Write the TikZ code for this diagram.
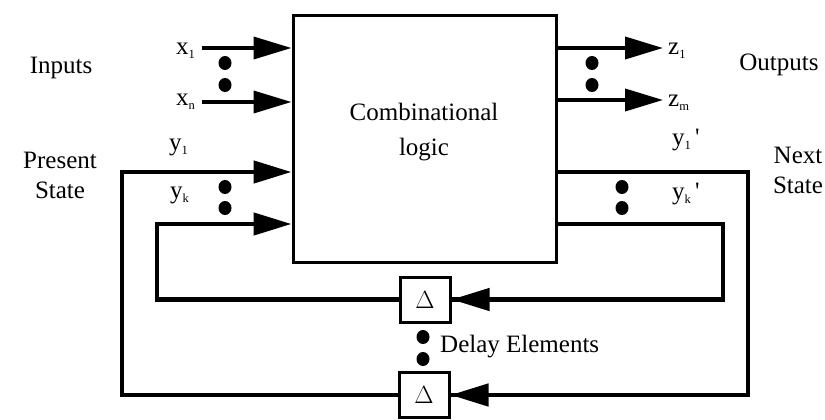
\documentclass[tikz,border=0pt]{standalone}
\usepackage{fontspec}
\setmainfont{Liberation Serif}
\usetikzlibrary{arrows.meta,shapes.geometric}
\newcommand{\lsub}[1]{\raisebox{-0.35ex}{\fontsize{12.5}{12.5}\selectfont #1}}
\newcommand{\tick}{\,\textquotesingle}
\begin{document}
\begin{tikzpicture}[x=1pt,y=-1pt,
  every node/.style={font=\fontsize{25}{30}\selectfont},
  wire/.style={line width=3.8pt},
  loopwire/.style={line width=4.6pt},
  head/.style={-{Triangle[length=38pt,width=22pt]}},
  blockbox/.style={draw,line width=3pt,minimum width=263pt,minimum height=246pt,inner sep=0pt,align=center},
  delaybox/.style={draw,line width=3pt,minimum width=50pt,minimum height=45pt,inner sep=0pt,font=\fontsize{26}{26}\selectfont},
  sig/.style={anchor=mid west,inner sep=0pt},
  caption/.style={align=center,inner sep=0pt},
  dot/.style={fill=black,ellipse,minimum width=13pt,minimum height=14pt,inner sep=0pt}]
\useasboundingbox (0,0) rectangle (825,420);

% combinational block and delay elements
\node[blockbox] (cl) at (424.5,139) {\rule{0pt}{0pt}};
\node[caption,font=\fontsize{25}{35}\selectfont] (cltext) at (424,132) {Combinational\\logic};
\node[delaybox] (d1) at (425,299.5) {$\Delta$};
\node[delaybox] (d2) at (424,395) {$\Delta$};

% free ends of the input and output lines
\coordinate (xa) at (202,48);
\coordinate (xb) at (202,102);
\coordinate (za) at (663,48);
\coordinate (zb) at (663,100);
% loop corners
\coordinate (ol) at (122,172);
\coordinate (or) at (748,172);
\coordinate (il) at (157,224);
\coordinate (ir) at (723,224);

% inputs and outputs
\draw[wire,head] (xa) -- (xa -| cl.west);
\draw[wire,head] (xb) -- (xb -| cl.west);
\draw[wire,head] (za -| cl.east) -- (za);
\draw[wire,head] (zb -| cl.east) -- (zb);

% inner feedback loop
\draw[loopwire,line join=miter] (ir -| cl.east) -- (ir) |- (d1.east);
\draw[loopwire,head] (ir |- d1.east) -- (d1.east);
\draw[loopwire,line join=miter] (d1.west) -| (il) -- +(60,0);
\draw[loopwire,head] (il) -- (il -| cl.west);

% outer feedback loop
\draw[loopwire,line join=miter] (or -| cl.east) -- (or) |- (d2.east);
\draw[loopwire,head] (or |- d2.east) -- (d2.east);
\draw[loopwire,line join=miter] (d2.west) -| (ol) -- +(60,0);
\draw[loopwire,head] (ol) -- (ol -| cl.west);

% signal names
\node[sig] (x1) at (176,52) {x\lsub{1}};
\node[sig] (xn) at (176,103) {x\lsub{n}};
\node[sig] (y1) at (169,148) {y\lsub{1}};
\node[sig] (yk) at (170,196) {y\lsub{k}};
\node[sig] (z1) at (668,52) {z\lsub{1}};
\node[sig] (zm) at (668,104) {z\lsub{m}};
\node[sig] (y1n) at (672,143) {y\lsub{1}\tick};
\node[sig] (ykn) at (672,197) {y\lsub{k}\tick};

% group captions
\node[caption] (inputs) at (61,68) {Inputs};
\node[caption] (present) at (60,175) {Present\\State};
\node[caption] (outputs) at (779,65) {Outputs};
\node[caption] (next) at (798,170) {Next\\State};
\node[anchor=west,inner sep=0pt] (delays) at (440,347) {Delay Elements};

% ellipsis dots
\node[dot] (dxa) at (225,63) {};
\node[dot] (dxb) at (225,85) {};
\node[dot] (dya) at (225,187) {};
\node[dot] (dyb) at (225,208) {};
\node[dot] (dza) at (592,63) {};
\node[dot] (dzb) at (592,85) {};
\node[dot] (dna) at (622,187) {};
\node[dot] (dnb) at (622,208) {};
\node[dot] (dda) at (423,337) {};
\node[dot] (ddb) at (423,359) {};
\end{tikzpicture}
\end{document}
